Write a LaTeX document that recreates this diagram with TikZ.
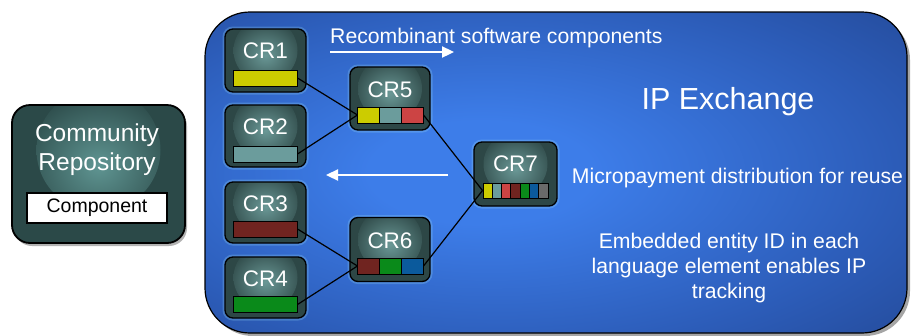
\documentclass[tikz,border=0pt]{standalone}
\usepackage{fontspec}
\setmainfont{Liberation Sans}
\usetikzlibrary{arrows.meta,shadows,shadings}
\definecolor{pcenter}{HTML}{3D7DE9}
\definecolor{pmid}{HTML}{2C5CB8}
\definecolor{pedge}{HTML}{1D3A7D}
\definecolor{crfill}{HTML}{2D4746}
\definecolor{crglow}{HTML}{6A9896}
\definecolor{repofill}{HTML}{2B4948}
\definecolor{repoglow}{HTML}{5F9592}
\definecolor{bY}{HTML}{CCCC00}
\definecolor{bT}{HTML}{6B9C9C}
\definecolor{bR}{HTML}{CC4444}
\definecolor{bD}{HTML}{702420}
\definecolor{bG}{HTML}{0A8A1A}
\definecolor{bB}{HTML}{0B5A9C}
\definecolor{bGr}{HTML}{6A6A6A}
\pgfdeclareradialshading{panelglow}{\pgfpoint{-6bp}{0bp}}{color(0bp)=(pcenter); color(8bp)=(pcenter); color(28bp)=(pmid); color(50bp)=(pedge); color(75bp)=(pedge)}
\tikzset{
  panel/.style={draw=black, line width=1.2pt, rounded corners=45pt, shading=panelglow,
    minimum width=702pt, minimum height=321pt, inner sep=0pt,
    drop shadow={shadow xshift=3pt, shadow yshift=-3pt, opacity=0.7}},
  crbox/.style={draw=black, line width=1.3pt, rounded corners=8pt, fill=crfill,
    minimum width=81pt, minimum height=63pt, inner sep=0pt,
    preaction={draw=white!60!cyan, draw opacity=0.25, line width=5pt},
    path picture={\shade[inner color=crglow, outer color=crfill]
      ([yshift=10pt]path picture bounding box.center) circle (32pt);}},
  repobox/.style={draw=black, line width=1.8pt, rounded corners=18pt, fill=repofill,
    minimum width=173pt, minimum height=138pt, inner sep=0pt,
    drop shadow={shadow xshift=2pt, shadow yshift=-3pt, opacity=0.6},
    path picture={\shade[inner color=repoglow, outer color=repofill]
      ([yshift=24pt]path picture bounding box.center) circle (62pt);}},
  crlabel/.style={text=white, font=\fontsize{22.5}{26}\selectfont, inner sep=0pt},
  bar/.style={draw=black, line width=1pt, minimum width=64pt, minimum height=16pt, inner sep=0pt},
  seg/.style={draw=black, line width=1pt, minimum height=16pt, inner sep=0pt},
  conn/.style={draw=black, line width=1.2pt},
  warrow/.style={draw=white, line width=2.3pt, -{Triangle[length=12pt,width=11pt]}},
  wtext/.style={text=white, font=\fontsize{21.2}{25}\selectfont, inner sep=0pt},
}
\begin{document}
\begin{tikzpicture}[x=1pt,y=-1pt]
\fill[white] (0,0) rectangle (912,335);
\useasboundingbox (0,0) rectangle (912,335);

% community repository
\node[repobox] (repo) at (98.5,174) {};
\node[text=white, font=\fontsize{24.5}{28}\selectfont, anchor=base, inner sep=0pt] (repot1) at (97,141) {Community};
\node[text=white, font=\fontsize{24.5}{28}\selectfont, anchor=base, inner sep=0pt] (repot2) at (97,170) {Repository};
\node[draw=black, line width=1.2pt, fill=white, minimum width=140pt, minimum height=30pt, inner sep=0pt,
  font=\fontsize{19.5}{22}\selectfont] (comp) at (97,208) {Component};

% IP exchange panel
\node[panel] (panel) at (556,172.5) {};

% CR boxes
\node[crbox] (cr1) at (265.5,60.5) {};
\node[crbox, minimum height=62pt] (cr2) at (265.5,136) {};
\node[crbox, minimum height=61pt] (cr3) at (265.5,212.5) {};
\node[crbox, minimum height=61pt] (cr4) at (265.5,287.5) {};
\node[crbox, minimum width=80pt] (cr5) at (390,98.5) {};
\node[crbox, minimum width=80pt, minimum height=64pt] (cr6) at (390,249.5) {};
\node[crbox, minimum width=83pt, minimum height=64pt] (cr7) at (515.5,174) {};

\node[crlabel] (l1) at (265.5,50.5) {CR1};
\node[crlabel] (l2) at (265.5,126.5) {CR2};
\node[crlabel] (l3) at (265.5,203.5) {CR3};
\node[crlabel] (l4) at (265.5,279) {CR4};
\node[crlabel] (l5) at (390,90) {CR5};
\node[crlabel] (l6) at (390,240.5) {CR6};
\node[crlabel] (l7) at (515.5,164) {CR7};

% bars
\node[bar, fill=bY] (b1) at (265,78) {};
\node[bar, fill=bT] (b2) at (265,154) {};
\node[bar, fill=bD] (b3) at (265,229) {};
\node[bar, fill=bG] (b4) at (265,304.5) {};

\node[seg, fill=bY, minimum width=21.67pt] (c5a) at (368.8,115) {};
\node[seg, fill=bT, minimum width=21.67pt] (c5b) at (390.5,115) {};
\node[seg, fill=bR, minimum width=21.67pt] (c5c) at (412.2,115) {};

\node[seg, fill=bD, minimum width=21.67pt] (c6a) at (368.8,266) {};
\node[seg, fill=bG, minimum width=21.67pt] (c6b) at (390.5,266) {};
\node[seg, fill=bB, minimum width=21.67pt] (c6c) at (412.2,266) {};

\foreach \c [count=\i] in {bY,bT,bR,bD,bG,bB,bGr}
  \node[seg, fill=\c, minimum width=9.29pt, minimum height=15pt] (c7\i) at ({483+9.29*(\i-0.5)},190.5) {};

% connectors
\draw[conn] (b1.east) -- (c5a.west);
\draw[conn] (b2.east) -- (c5a.west);
\draw[conn] (b3.east) -- (c6a.west);
\draw[conn] (b4.east) -- (c6a.west);
\draw[conn] (c5c.east) -- (c71.west);
\draw[conn] (c6c.east) -- (c71.west);

% arrows
\coordinate (a1s) at (330,52);
\coordinate (a1e) at (454,52);
\draw[warrow] (a1s) -- (a1e);
\coordinate (a2s) at (448,175);
\coordinate (a2e) at (326,175);
\draw[warrow] (a2s) -- (a2e);

% texts
\node[wtext, anchor=base west] (trec) at (330,43) {Recombinant software components};
\node[text=white, font=\fontsize{30.5}{34}\selectfont, anchor=base, inner sep=0pt] (tip) at (728,109) {IP Exchange};
\node[wtext, anchor=base] (tmicro) at (737.5,183) {Micropayment distribution for reuse};
\node[wtext, anchor=north, align=center] (temb) at (729,233) {Embedded entity ID in each\\language element enables IP\\tracking};
\end{tikzpicture}
\end{document}
